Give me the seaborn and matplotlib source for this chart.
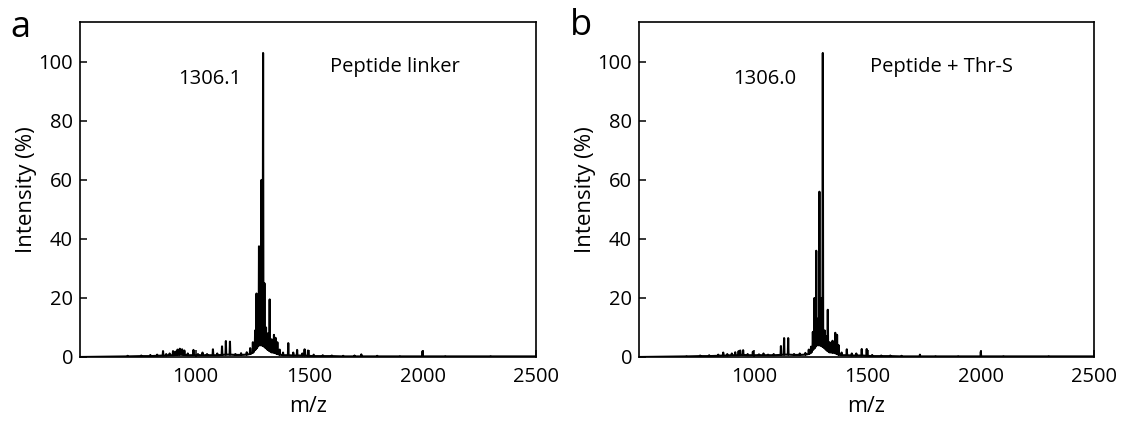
import numpy as np
import pandas as pd
import matplotlib
matplotlib.use("Agg")
import matplotlib.pyplot as plt
import seaborn as sns

# ---------------- data ----------------
# Panel a : Peptide linker
a_mz = [700, 760, 800, 830, 856, 870, 885, 900, 910, 920, 930, 940, 950, 965, 990,
        1010, 1030, 1050, 1076, 1095, 1116, 1133, 1151, 1175, 1200, 1225, 1240, 1252,
        1262, 1268, 1272, 1279, 1284, 1290, 1297, 1303, 1310, 1318, 1326, 1335, 1345,
        1352, 1360, 1370, 1385, 1408, 1430, 1447, 1470, 1480, 1495, 1520, 1560, 1600,
        1650, 1700, 1730, 1800, 1900, 2000, 2100, 2300]
a_int = [0.4, 0.5, 0.7, 0.8, 2.0, 1.0, 1.2, 2.0, 1.8, 2.5, 2.8, 2.6, 2.2, 1.2, 2.4,
         1.0, 1.5, 1.0, 2.6, 1.2, 3.6, 5.4, 5.2, 1.0, 1.3, 1.6, 3.0, 5.0,
         9.0, 21.5, 14.0, 37.5, 12.0, 60.0, 103.0, 25.0, 10.0, 8.0, 19.5, 6.0, 7.5,
         6.5, 5.0, 2.5, 1.5, 4.7, 1.5, 2.4, 1.2, 2.6, 2.2, 0.8, 0.6, 0.5,
         0.4, 0.5, 0.9, 0.4, 0.3, 2.0, 0.3, 0.3]
a_base = [0.2, 0.3, 0.3, 0.4, 0.5, 0.5, 0.6, 0.6, 0.7, 0.7, 0.8, 0.8, 0.7, 0.6, 0.6,
          0.6, 0.6, 0.6, 0.6, 0.6, 0.7, 0.8, 0.8, 0.7, 0.7, 0.8, 1.0, 1.5,
          2.5, 3.0, 3.5, 4.0, 4.0, 4.0, 3.8, 3.5, 3.0, 2.5, 2.0, 1.6, 1.5,
          1.3, 1.0, 0.8, 0.6, 0.6, 0.5, 0.5, 0.5, 0.5, 0.4, 0.3, 0.3, 0.3,
          0.2, 0.2, 0.2, 0.2, 0.2, 0.2, 0.2, 0.2]

# Panel b : Peptide + Thr-S
b_mz = [700, 760, 800, 840, 862, 880, 900, 915, 930, 937, 950, 970, 993, 1020, 1040,
        1060, 1085, 1117, 1131, 1149, 1175, 1200, 1225, 1240, 1250, 1258, 1265, 1269,
        1273, 1280, 1287, 1295, 1302, 1310, 1317, 1324, 1332, 1345, 1357, 1365, 1372,
        1385, 1408, 1430, 1450, 1474, 1496, 1520, 1560, 1600, 1650, 1731, 1800, 1900,
        2000, 2100, 2300]
b_int = [0.3, 0.5, 0.6, 0.8, 1.5, 1.0, 1.2, 1.6, 2.0, 2.2, 2.3, 1.0, 1.8, 0.9, 1.2,
         0.8, 1.0, 3.7, 6.4, 6.4, 1.0, 1.2, 1.4, 2.5, 3.5, 8.5, 20.0, 12.0,
         36.0, 13.0, 56.0, 20.0, 103.0, 9.0, 7.0, 16.0, 5.0, 5.5, 8.2, 7.5, 4.0,
         1.5, 2.6, 1.2, 1.2, 2.7, 2.7, 0.7, 0.5, 0.5, 0.4, 0.8, 0.3, 0.3,
         1.8, 0.3, 0.3]
b_base = [0.2, 0.3, 0.3, 0.4, 0.5, 0.5, 0.6, 0.6, 0.6, 0.7, 0.7, 0.6, 0.6, 0.6, 0.6,
          0.6, 0.6, 0.7, 0.8, 0.8, 0.7, 0.7, 0.8, 1.0, 1.5, 2.5, 3.0, 3.5,
          4.0, 4.0, 4.0, 3.8, 3.5, 3.0, 2.5, 2.0, 1.6, 1.5, 1.3, 1.0, 0.8,
          0.6, 0.6, 0.5, 0.5, 0.5, 0.4, 0.3, 0.3, 0.3, 0.2, 0.2, 0.2, 0.2,
          0.2, 0.2, 0.2]

peak_labels = ["1306.1", "1306.0"]
sample_names = ["Peptide linker", "Peptide + Thr-S"]
panel_letters = ["a", "b"]
x_ticks = [1000, 1500, 2000, 2500]
y_ticks = [0, 20, 40, 60, 80, 100]


def trace(mz, inten, base, start=490, end=2500, hw=1.6):
    xs, ys = [start], [0.0]
    for m, h, b in zip(mz, inten, base):
        xs += [m - hw, m, m + hw]
        ys += [b, h, b]
    xs.append(end)
    ys.append(0.2)
    return pd.DataFrame({"m/z": xs, "Intensity": ys})


# ---------------- figure ----------------
sns.set_theme(style="ticks")
plt.rcParams["font.family"] = ["Open Sans", "DejaVu Sans"]
plt.rcParams["text.color"] = "black"
plt.rcParams["axes.labelcolor"] = "black"
plt.rcParams["xtick.color"] = "black"
plt.rcParams["ytick.color"] = "black"

fig = plt.figure(figsize=(11.26, 4.25), dpi=100)
W, H = 1126, 425
ax_a = fig.add_axes([80 / W, (H - 357) / H, 456 / W, 335 / H])
ax_b = fig.add_axes([639 / W, (H - 357) / H, 455 / W, 335 / H])

panels = [
    (ax_a, trace(a_mz, a_int, a_base), 0),
    (ax_b, trace(b_mz, b_int, b_base), 1),
]

for ax, df, i in panels:
    sns.lineplot(data=df, x="m/z", y="Intensity", ax=ax, estimator=None, sort=False,
                 color="black", linewidth=1.5)
    ax.set_xlim(490, 2500)
    ax.set_ylim(0, 113.5)
    ax.set_xticks(x_ticks)
    ax.set_yticks(y_ticks)
    ax.tick_params(direction="in", length=5, width=1.1, labelsize=14.5,
                   colors="black")
    ax.tick_params(axis="x", pad=7)
    ax.tick_params(axis="y", pad=5)
    for s in ax.spines.values():
        s.set_linewidth(1.2)
        s.set_color("black")
    ax.set_xlabel("m/z", fontsize=15.5, labelpad=7)
    ax.set_ylabel("Intensity (%)", fontsize=16, labelpad=1)
    ax.text(0.285 if i == 0 else 0.277, 0.83, peak_labels[i], transform=ax.transAxes,
            ha="center", va="center", fontsize=14.5)
    ax.text(0.548 if i == 0 else 0.508, 0.866, sample_names[i], transform=ax.transAxes,
            ha="left", va="center", fontsize=14.5)

fig.text(10 / W, 1 - 28 / H, panel_letters[0], fontsize=26, ha="left", va="center")
fig.text(570 / W, 1 - 26 / H, panel_letters[1], fontsize=26, ha="left", va="center")

fig.savefig("out.png", dpi=100)
